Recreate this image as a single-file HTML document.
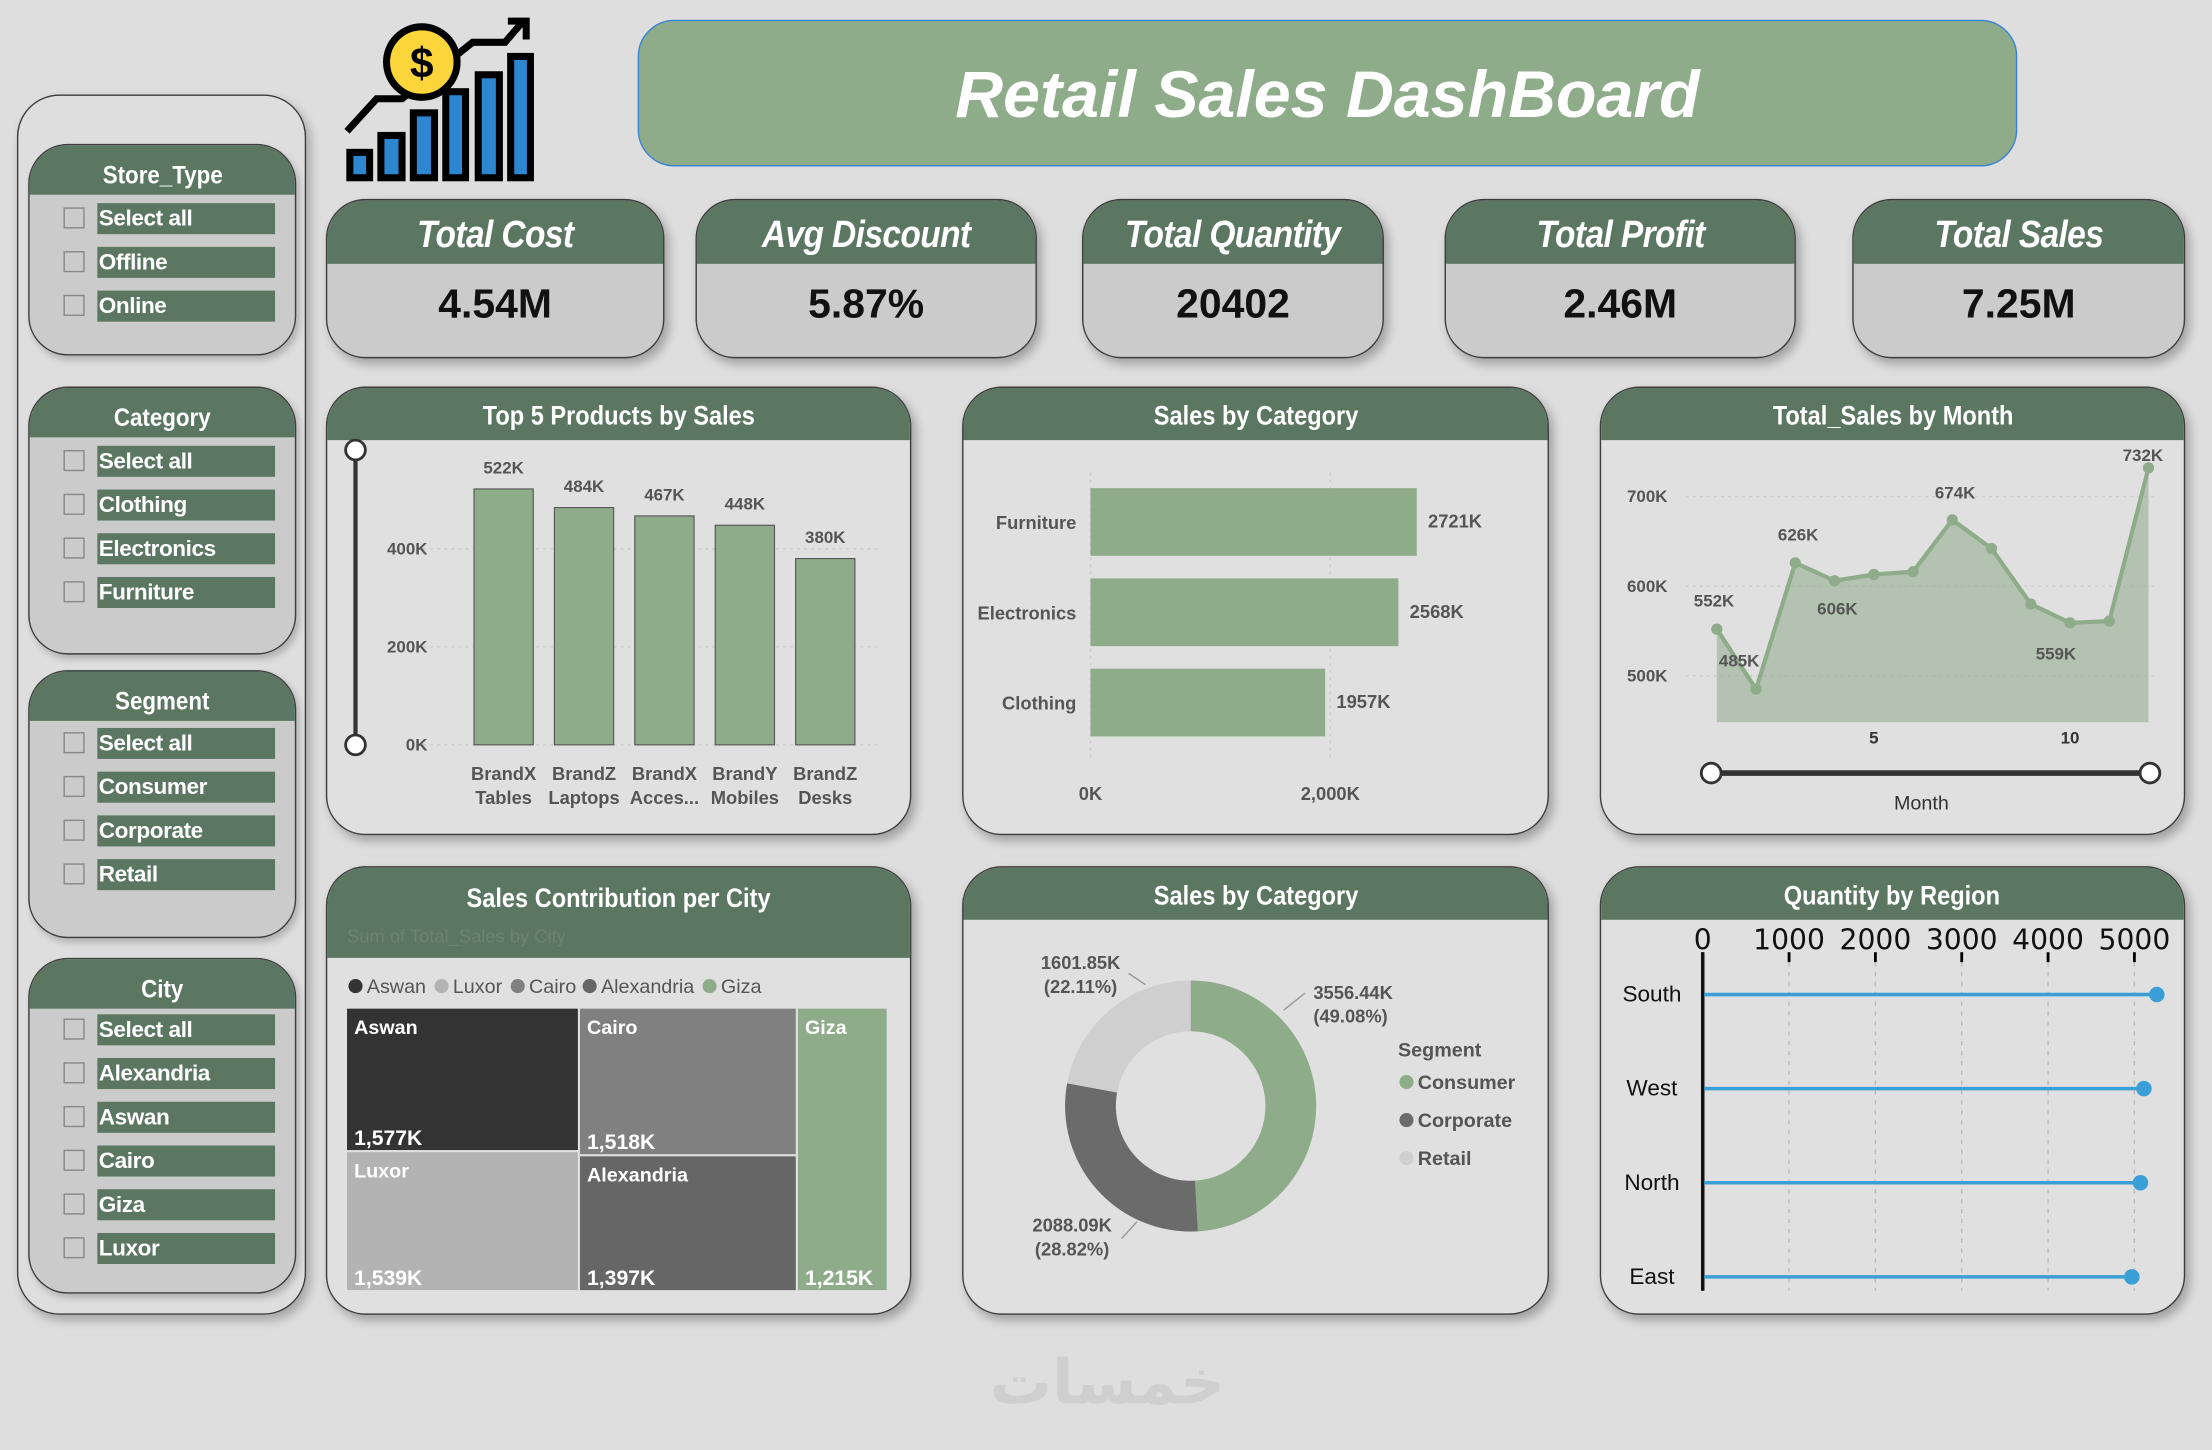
<!DOCTYPE html>
<html><head><meta charset="utf-8">
<style>
html,body{margin:0;padding:0;background:#dedede;width:2212px;height:1450px;overflow:hidden}
#root{position:absolute;left:0;top:0;width:1568px;height:1028px;transform:scale(1.41071);transform-origin:0 0;font-family:"Liberation Sans Narrow","Liberation Sans",sans-serif}
.abs{position:absolute}
.card{position:absolute;border:1.5px solid #3d3d3d;border-radius:28px;background:#e0e0e0;overflow:hidden;box-shadow:3px 4px 7px rgba(0,0,0,.28);box-sizing:border-box}
.hdr{background:#5b7661;color:#fff;font-weight:bold;text-align:center;font-size:19px}
.hdr span{display:inline-block;transform:scaleX(0.88)}
.kpi{background:#cbcbcb}
.kpi .hdr{height:45px;line-height:49px;font-size:27px;font-style:italic;letter-spacing:-0.5px}
.kpi .val{text-align:center;font-size:29px;font-weight:bold;color:#111;line-height:58px}
.sl{position:absolute;border:1.5px solid #3d3d3d;border-radius:28px;background:#cbcbcb;overflow:hidden;box-sizing:border-box;box-shadow:2px 3px 5px rgba(0,0,0,.2)}
.sl .hdr{height:35px;line-height:42px;font-size:18px}
.item{position:absolute;left:24px;height:22px}
.cb{position:absolute;left:0;top:3px;width:15px;height:15px;border:1.5px solid #888;box-sizing:border-box}
.lb{position:absolute;left:24px;top:0;width:126px;height:22px;background:#5b7661;color:#fff;font-weight:bold;font-size:16px;line-height:23px;padding-left:1px;box-sizing:border-box;letter-spacing:-0.3px}
.chart .hdr{height:37px;line-height:42px}
</style></head><body>
<div id="root">
<div class="abs" style="left:12px;top:67px;width:205px;height:865px;border:1.5px solid #3d3d3d;border-radius:30px;box-sizing:border-box;box-shadow:3px 4px 7px rgba(0,0,0,.25)"></div>

<div class="sl" style="left:20px;top:102px;width:190px;height:150px">
 <div class="hdr"><span>Store_Type</span></div>
 <div class="item" style="top:41px"><div class="cb"></div><div class="lb">Select all</div></div>
 <div class="item" style="top:72px"><div class="cb"></div><div class="lb">Offline</div></div>
 <div class="item" style="top:103px"><div class="cb"></div><div class="lb">Online</div></div>
</div>
<div class="sl" style="left:20px;top:274px;width:190px;height:190px">
 <div class="hdr"><span>Category</span></div>
 <div class="item" style="top:41px"><div class="cb"></div><div class="lb">Select all</div></div>
 <div class="item" style="top:72px"><div class="cb"></div><div class="lb">Clothing</div></div>
 <div class="item" style="top:103px"><div class="cb"></div><div class="lb">Electronics</div></div>
 <div class="item" style="top:134px"><div class="cb"></div><div class="lb">Furniture</div></div>
</div>
<div class="sl" style="left:20px;top:475px;width:190px;height:190px">
 <div class="hdr"><span>Segment</span></div>
 <div class="item" style="top:40px"><div class="cb"></div><div class="lb">Select all</div></div>
 <div class="item" style="top:71px"><div class="cb"></div><div class="lb">Consumer</div></div>
 <div class="item" style="top:102px"><div class="cb"></div><div class="lb">Corporate</div></div>
 <div class="item" style="top:133px"><div class="cb"></div><div class="lb">Retail</div></div>
</div>
<div class="sl" style="left:20px;top:679px;width:190px;height:238px">
 <div class="hdr"><span>City</span></div>
 <div class="item" style="top:39px"><div class="cb"></div><div class="lb">Select all</div></div>
 <div class="item" style="top:70px"><div class="cb"></div><div class="lb">Alexandria</div></div>
 <div class="item" style="top:101px"><div class="cb"></div><div class="lb">Aswan</div></div>
 <div class="item" style="top:132px"><div class="cb"></div><div class="lb">Cairo</div></div>
 <div class="item" style="top:163px"><div class="cb"></div><div class="lb">Giza</div></div>
 <div class="item" style="top:194px"><div class="cb"></div><div class="lb">Luxor</div></div>
</div>

<svg class="abs" style="left:240px;top:8px" width="145" height="125" viewBox="0 0 145 125">
 <g stroke="#000" stroke-width="5" fill="#2d86d0">
  <rect x="8" y="100" width="14" height="18"/><rect x="30" y="88" width="15" height="30"/><rect x="53" y="72" width="15" height="46"/><rect x="76" y="57" width="14" height="61"/><rect x="99" y="45" width="15" height="73"/><rect x="122" y="32" width="14" height="86"/>
 </g>
 <polyline points="6,85 27,62 45,62 95,22 118,22 130,8" fill="none" stroke="#000" stroke-width="5"/>
 <polyline points="120,7 133,7 133,20" fill="none" stroke="#000" stroke-width="5"/>
 <circle cx="59" cy="36" r="25" fill="#fcd53b" stroke="#000" stroke-width="5"/>
 <text x="59" y="47" text-anchor="middle" font-family="Liberation Sans" font-weight="bold" font-size="30" fill="#000">$</text>
</svg>

<div class="abs" style="left:452px;top:14px;width:978px;height:104px;background:#8fac8a;border:1.5px solid #3a84d6;border-radius:26px;box-sizing:border-box;text-align:center;line-height:104px;color:#fff;font-family:'Liberation Sans',sans-serif;font-weight:bold;font-style:italic;font-size:47px">Retail Sales DashBoard</div>

<div class="card kpi" style="left:231px;top:141px;width:240px;height:113px"><div class="hdr"><span>Total Cost</span></div><div class="val">4.54M</div></div>
<div class="card kpi" style="left:493px;top:141px;width:242px;height:113px"><div class="hdr"><span>Avg Discount</span></div><div class="val">5.87%</div></div>
<div class="card kpi" style="left:767px;top:141px;width:214px;height:113px"><div class="hdr"><span>Total Quantity</span></div><div class="val">20402</div></div>
<div class="card kpi" style="left:1024px;top:141px;width:249px;height:113px"><div class="hdr"><span>Total Profit</span></div><div class="val">2.46M</div></div>
<div class="card kpi" style="left:1313px;top:141px;width:236px;height:113px"><div class="hdr"><span>Total Sales</span></div><div class="val">7.25M</div></div>

<div class="card chart" style="left:231px;top:274px;width:415px;height:318px"><div class="hdr"><span>Top 5 Products by Sales</span></div></div>
<div class="card chart" style="left:682px;top:274px;width:416px;height:318px"><div class="hdr"><span>Sales by Category</span></div></div>
<div class="card chart" style="left:1134px;top:274px;width:415px;height:318px"><div class="hdr"><span>Total_Sales by Month</span></div></div>
<div class="card chart" style="left:231px;top:614px;width:415px;height:318px"><div class="hdr" style="height:64px;line-height:46px;text-align:center"><span>Sales Contribution per City</span><div style="position:absolute;left:14px;top:40px;font-size:13px;font-weight:normal;color:#6a8470;line-height:18px">Sum of Total_Sales by City</div></div></div>
<div class="card chart" style="left:682px;top:614px;width:416px;height:318px"><div class="hdr"><span>Sales by Category</span></div></div>
<div class="card chart" style="left:1134px;top:614px;width:415px;height:318px"><div class="hdr"><span>Quantity by Region</span></div></div>

<div class="abs" style="left:690px;top:955px;width:190px;text-align:center;font-family:'DejaVu Sans',sans-serif;font-size:44px;color:#cfcfcf;font-weight:bold">خمسات</div>

<svg id="charts" class="abs" style="left:0;top:0" width="1568" height="1028" font-family="Liberation Sans, sans-serif"></svg>
</div>
<script>
// ---- Top 5 products ----
const prodLabels1=["BrandX","BrandZ","BrandX","BrandY","BrandZ"];
const prodLabels2=["Tables","Laptops","Acces...","Mobiles","Desks"];
const prodSales=[522,484,467,448,380];
const prodTicks=[0,200,400];
// ---- Category bar ----
const catNames=["Furniture","Electronics","Clothing"];
const catSales=[2721,2568,1957];
const catTicks=[0,2000];
// ---- Month line ----
const months=[1,2,3,4,5,6,7,8,9,10,11,12];
const monthSales=[552,485,626,606,613,616,674,642,580,559,561,732];
const monthLabelIdx=[0,1,2,3,6,9,11];
const monthYTicks=[500,600,700];
const monthXTicks=[5,10];
// ---- Treemap ----
const cityNames=["Aswan","Luxor","Cairo","Alexandria","Giza"];
const citySales=[1577,1539,1518,1397,1215];
const cityColors=["#333333","#b3b3b3","#808080","#666666","#8fac8a"];
// ---- Donut ----
const segNames=["Consumer","Corporate","Retail"];
const segValues=[3556.44,2088.09,1601.85];
const segColors=["#8fac8a","#6b6b6b","#cfcfcf"];
// ---- Region ----
const regions=["South","West","North","East"];
const regionQty=[5260,5110,5070,4970];
const regionTicks=[0,1000,2000,3000,4000,5000];

const NS="http://www.w3.org/2000/svg";
const svg=document.getElementById('charts');
function el(tag,attrs,parent,text){const e=document.createElementNS(NS,tag);for(const k in attrs)e.setAttribute(k,attrs[k]);if(text!==undefined)e.textContent=text;(parent||svg).appendChild(e);return e;}
function txt(x,y,s,opts,parent){return el('text',Object.assign({x:x,y:y,'font-size':12,fill:'#444'},opts||{}),parent,s);}

// Top products
(function(){
 const g=el('g',{});
 const y=v=>528-v*(139/400), x=i=>336+i*57;
 prodTicks.forEach(t=>{el('line',{x1:300,x2:625,y1:y(t),y2:y(t),stroke:'#ccc','stroke-dasharray':'2,3'},g);txt(303,y(t)+4,t+'K',{'text-anchor':'end','font-size':12,'font-weight':'bold',fill:'#555'},g);});
 el('line',{x1:252,x2:252,y1:319,y2:528,stroke:'#333','stroke-width':3},g);
 [319,528].forEach(cy=>el('circle',{cx:252,cy:cy,r:7,fill:'#fff',stroke:'#333','stroke-width':2},g));
 prodSales.forEach((v,i)=>{const r=el('rect',{x:x(i),y:y(v),width:42,height:528-y(v),fill:'#8fac8a',stroke:'#555','stroke-width':0.8},g);
  txt(x(i)+21,y(v)-11,v+'K',{'text-anchor':'middle','font-weight':'bold',fill:'#555'},g);
  txt(x(i)+21,553,prodLabels1[i],{'text-anchor':'middle','font-weight':'bold',fill:'#555','font-size':13},g);
  txt(x(i)+21,570,prodLabels2[i],{'text-anchor':'middle','font-weight':'bold',fill:'#555','font-size':13},g);});
})();

// Category bars
(function(){
 const g=el('g',{});
 const x=v=>773+v*(170/2000), y=i=>346+i*64;
 catTicks.forEach(t=>{el('line',{x1:x(t),x2:x(t),y1:335,y2:540,stroke:'#ccc','stroke-dasharray':'2,3'},g);txt(x(t),567,(t===0?'0K':t.toLocaleString('en-US')+'K'),{'text-anchor':'middle','font-weight':'bold',fill:'#555','font-size':13},g);});
 catSales.forEach((v,i)=>{const r=el('rect',{x:773,y:y(i),width:x(v)-773,height:48,fill:'#8fac8a'},g);
  txt(763,y(i)+29,catNames[i],{'text-anchor':'end','font-weight':'bold',fill:'#555','font-size':13},g);
  txt(x(v)+8,y(i)+28,v+'K',{'font-weight':'bold',fill:'#555','font-size':13},g);});
})();

// Month line
(function(){
 const g=el('g',{});
 const x=m=>1217+(m-1)*(306/11), y=v=>479-(v-500)*0.635;
 monthYTicks.forEach(t=>{el('line',{x1:1195,x2:1530,y1:y(t),y2:y(t),stroke:'#ccc','stroke-dasharray':'2,3'},g);txt(1182,y(t)+4,t+'K',{'text-anchor':'end','font-weight':'bold',fill:'#555'},g);});
 monthXTicks.forEach(t=>txt(x(t),527,String(t),{'text-anchor':'middle','font-weight':'bold',fill:'#333'},g));
 let d='M'+x(1)+' 512';months.forEach((m,i)=>d+=' L'+x(m)+' '+y(monthSales[i]));d+=' L'+x(12)+' 512 Z';
 el('path',{d:d,fill:'#8fac8a','fill-opacity':0.55},g);
 el('polyline',{points:months.map((m,i)=>x(m)+','+y(monthSales[i])).join(' '),fill:'none',stroke:'#8fac8a','stroke-width':3},g);
 months.forEach((m,i)=>{const c=el('circle',{cx:x(m),cy:y(monthSales[i]),r:4,fill:'#8fac8a'},g);});
 const off={0:[-2,-16],1:[-12,-16],2:[2,-16],3:[2,24],6:[2,-15],9:[-10,26],11:[-4,-5]};
 monthLabelIdx.forEach(i=>txt(x(months[i])+off[i][0],y(monthSales[i])+off[i][1],monthSales[i]+'K',{'text-anchor':'middle','font-weight':'bold',fill:'#555'},g));
 el('line',{x1:1213,x2:1524,y1:548,y2:548,stroke:'#333','stroke-width':4},g);
 [1213,1524].forEach(cx=>el('circle',{cx:cx,cy:548,r:7,fill:'#fff',stroke:'#333','stroke-width':2},g));
 txt(1362,574,'Month',{'text-anchor':'middle',fill:'#333','font-size':14},g);
})();

// Treemap
(function(){
 const g=el('g',{});
 const legX=[246,307,361,412,497];
 cityNames.forEach((n,i)=>{el('circle',{cx:legX[i]+6,cy:699,r:5,fill:cityColors[i]},g);txt(legX[i]+14,704,n,{fill:'#555','font-size':14},g);});
 const total=citySales.reduce((a,b)=>a+b,0), W=384, H=201, X0=246, Y0=715;
 const cols=[[0,1],[2,3],[4]];
 let cx=X0;
 cols.forEach(col=>{const s=col.reduce((a,i)=>a+citySales[i],0);const w=W*s/total;let cy=Y0;
  col.forEach(i=>{const h=H*citySales[i]/s;const r=el('rect',{x:cx,y:cy,width:w-1.5,height:h-1.5,fill:cityColors[i]},g);
   txt(cx+5,cy+18,cityNames[i],{fill:'#fff','font-weight':'bold','font-size':14},g);
   txt(cx+5,cy+h-5,citySales[i].toLocaleString('en-US')+'K',{fill:'#fff','font-weight':'bold','font-size':15},g);cy+=h;});
  cx+=w;});
})();

// Donut
(function(){
 const g=el('g',{});
 const CX=844,CY=784,R=89,r=53,total=segValues.reduce((a,b)=>a+b,0);
 let a0=0;
 segValues.forEach((v,i)=>{const a1=a0+v/total*2*Math.PI;const p=(a,rr)=>[CX+rr*Math.sin(a),CY-rr*Math.cos(a)];const large=(a1-a0)>Math.PI?1:0;
  const [x1,y1]=p(a0,R),[x2,y2]=p(a1,R),[x3,y3]=p(a1,r),[x4,y4]=p(a0,r);
  const s=el('path',{d:`M${x1} ${y1} A${R} ${R} 0 ${large} 1 ${x2} ${y2} L${x3} ${y3} A${r} ${r} 0 ${large} 0 ${x4} ${y4} Z`,fill:segColors[i]},g);
  a0=a1;});
 const lbl=[[931,708,'start',[910,716,925,704]],[760,873,'middle',[806,866,795,878]],[766,687,'middle',[800,690,812,698]]];
 segValues.forEach((v,i)=>{const L=lbl[i];el('polyline',{points:L[3].join(','),fill:'none',stroke:'#999'},g);
  txt(L[0],L[1],v.toFixed(2)+'K',{'text-anchor':L[2],'font-weight':'bold',fill:'#555','font-size':13},g);
  txt(L[0],L[1]+17,'('+(v/total*100).toFixed(2)+'%)',{'text-anchor':L[2],'font-weight':'bold',fill:'#555','font-size':13},g);
  el('circle',{cx:997,cy:767+i*27,r:5,fill:segColors[i]},g);txt(1005,772+i*27,segNames[i],{'font-weight':'bold',fill:'#555','font-size':14},g);});
 txt(991,749,'Segment',{'font-weight':'bold',fill:'#555','font-size':14},g);
})();

// Region lollipop
(function(){
 const g=el('g',{});
 const x=v=>1207+v*(306/5000), y=i=>705+i*66.7;
 regionTicks.forEach(t=>{el('line',{x1:x(t),x2:x(t),y1:675,y2:915,stroke:'#bbb','stroke-dasharray':'3,4'},g);el('line',{x1:x(t),x2:x(t),y1:675,y2:682,stroke:'#000','stroke-width':2},g);txt(x(t),673,String(t),{'text-anchor':'middle',fill:'#111','font-size':20,'font-family':'DejaVu Sans, sans-serif'},g);});
 el('line',{x1:1207,x2:1207,y1:675,y2:915,stroke:'#111','stroke-width':2.5},g);
 regions.forEach((n,i)=>{el('line',{x1:1208,x2:x(regionQty[i]),y1:y(i),y2:y(i),stroke:'#3a9fd6','stroke-width':2.5},g);
  const c=el('circle',{cx:x(regionQty[i]),cy:y(i),r:5.5,fill:'#3a9fd6'},g);
  txt(1171,y(i)+5,n,{'text-anchor':'middle',fill:'#111','font-size':16},g);});
})();
</script>
</body></html>
